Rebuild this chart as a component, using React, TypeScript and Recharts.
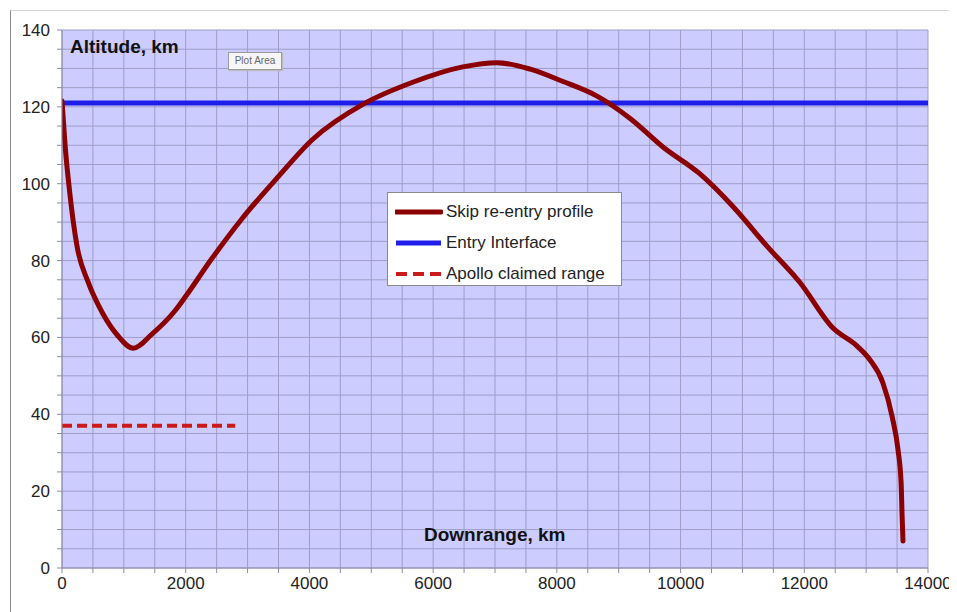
import React from "react";
import { LineChart, Line, XAxis, YAxis, CartesianGrid } from "recharts";

const downrangeKm = [0, 50, 130, 240, 420, 650, 900, 1150, 1450, 1830, 2000, 2400, 2900, 3500, 4050, 4870, 5670, 6480, 7030, 7570, 8100, 8650, 9200, 9720, 10310, 10850, 11400, 11930, 12460, 12850, 13060, 13270, 13420, 13515, 13565, 13582, 13596];
const altitudeKm = [121.5, 110, 97, 84, 74.5, 66.5, 60.5, 57.2, 60.8, 67, 70.7, 80, 90.7, 101.9, 111.5, 120.7, 126.4, 130.4, 131.5, 129.8, 126.6, 122.8, 116.8, 109.5, 102.6, 94, 83.7, 74.3, 62.5, 57.8, 54.2, 48.2, 39.4, 30.8, 22.2, 13.3, 7];

const entryX = [0, 14000];
const entryAlt = [121, 121];

const apolloX = [0, 2800];
const apolloAlt = [37, 37];

const seriesNames = ["Skip re-entry profile", "Entry Interface", "Apollo claimed range"];

const xTicks = [0, 500, 1000, 1500, 2000, 2500, 3000, 3500, 4000, 4500, 5000, 5500, 6000, 6500, 7000, 7500, 8000, 8500, 9000, 9500, 10000, 10500, 11000, 11500, 12000, 12500, 13000, 13500, 14000];
const xLabels = [0, 2000, 4000, 6000, 8000, 10000, 12000, 14000];
const yTicks = [0, 5, 10, 15, 20, 25, 30, 35, 40, 45, 50, 55, 60, 65, 70, 75, 80, 85, 90, 95, 100, 105, 110, 115, 120, 125, 130, 135, 140];
const yLabels = [0, 20, 40, 60, 80, 100, 120, 140];

const skipData = downrangeKm.map((x, i) => ({ x, y: altitudeKm[i] }));
const entryData = entryX.map((x, i) => ({ x, y: entryAlt[i] }));
const apolloData = apolloX.map((x, i) => ({ x, y: apolloAlt[i] }));

const FONT = "'Liberation Sans', Arial, sans-serif";
const RED = "#8B0000";
const BLUE = "#1E1EEA";
const DASH = "#CC1A1A";

export default function App() {
  return (
    <div style={{ position: "relative", width: 949, height: 604, fontFamily: FONT, background: "#fff" }}>
      <div
        style={{
          position: "absolute",
          left: 2,
          top: 2,
          right: 0,
          bottom: 0,
          borderLeft: "1px solid #8a8a8a",
          borderTop: "1px solid #d8d8d8",
        }}
      />
      <div style={{ position: "absolute", left: 0, top: 0 }}>
        <LineChart width={949} height={600} margin={{ top: 22, right: 29, left: 0, bottom: 0 }}>
          <CartesianGrid
            stroke="#9E9EC8"
            strokeWidth={1}
            fill="#CCCCFF"
            fillOpacity={1}
          />
          <XAxis
            dataKey="x"
            type="number"
            domain={[0, 14000]}
            ticks={xTicks}
            interval={0}
            tickFormatter={(v: number) => (xLabels.includes(v) ? String(v) : "")}
            allowDataOverflow
            height={40}
            tickSize={5}
            tickMargin={4}
            stroke="#8C8CA8"
            tick={{ fill: "#222", fontSize: 17, fontFamily: FONT }}
          />
          <YAxis
            dataKey="y"
            type="number"
            domain={[0, 140]}
            ticks={yTicks}
            interval={0}
            tickFormatter={(v: number) => (yLabels.includes(v) ? String(v) : "")}
            allowDataOverflow
            width={54}
            tickSize={5}
            tickMargin={7}
            stroke="#8C8CA8"
            tick={{ fill: "#222", fontSize: 17, fontFamily: FONT }}
          />
          <Line
            data={apolloData}
            dataKey="y"
            name={seriesNames[2]}
            stroke={DASH}
            strokeWidth={4}
            strokeDasharray="10 5"
            dot={false}
            activeDot={false}
            isAnimationActive={false}
          />
          <Line
            data={entryData}
            dataKey="y"
            name={seriesNames[1]}
            stroke={BLUE}
            strokeWidth={5}
            dot={false}
            activeDot={false}
            isAnimationActive={false}
          />
          <Line
            data={skipData}
            dataKey="y"
            name={seriesNames[0]}
            type="monotone"
            stroke={RED}
            strokeWidth={5}
            strokeLinecap="round"
            dot={false}
            activeDot={false}
            isAnimationActive={false}
          />
        </LineChart>
      </div>

      <div
        style={{
          position: "absolute",
          left: 62,
          top: 28,
          fontSize: 19,
          fontWeight: "bold",
          color: "#111",
        }}
      >
        Altitude, km
      </div>

      <div
        style={{
          position: "absolute",
          left: 220,
          top: 44,
          width: 54,
          height: 18,
          boxSizing: "border-box",
          border: "1px solid #9a9a9a",
          background: "#f6f6f6",
          fontSize: 10,
          color: "#666",
          lineHeight: "16px",
          textAlign: "center",
          boxShadow: "1px 1px 1px #bbb",
        }}
      >
        Plot Area
      </div>

      <div
        style={{
          position: "absolute",
          left: 416,
          top: 516,
          fontSize: 19,
          fontWeight: "bold",
          color: "#111",
        }}
      >
        Downrange, km
      </div>

      <div
        style={{
          position: "absolute",
          left: 379,
          top: 184,
          width: 235,
          height: 94,
          boxSizing: "border-box",
          border: "1px solid #8a8a8a",
          background: "#fff",
          padding: "3px 0 0 7px",
        }}
      >
        {seriesNames.map((name, i) => (
          <div key={name} style={{ display: "flex", alignItems: "center", height: 31 }}>
            <svg width={48} height={10} style={{ marginRight: 3 }}>
              <line
                x1={1}
                y1={5}
                x2={46}
                y2={5}
                stroke={i === 0 ? RED : i === 1 ? BLUE : DASH}
                strokeWidth={i === 2 ? 4 : 5}
                strokeDasharray={i === 2 ? "11 6" : undefined}
                strokeLinecap={i === 0 ? "round" : "butt"}
              />
            </svg>
            <span style={{ fontSize: 17, color: "#222" }}>{name}</span>
          </div>
        ))}
      </div>
    </div>
  );
}
